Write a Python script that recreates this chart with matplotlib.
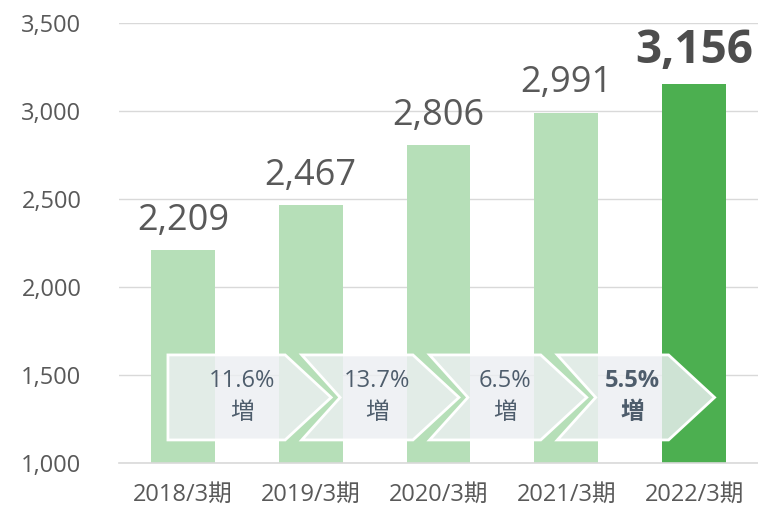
import matplotlib.pyplot as plt
from matplotlib.patches import Polygon
from matplotlib.ticker import FuncFormatter

plt.rcParams['font.family'] = ['Open Sans', 'Noto Sans CJK JP', 'DejaVu Sans']

periods = ['2018/3期', '2019/3期', '2020/3期', '2021/3期', '2022/3期']
values = [2209, 2467, 2806, 2991, 3156]
growth = ['11.6%', '13.7%', '6.5%', '5.5%']

light = '#b6dfb8'
dark = '#4caf50'
text_gray = '#595959'

fig = plt.figure(figsize=(7.58, 5.12), dpi=100)
ax = fig.add_axes([0.157, 0.0957, 0.843, 0.8594])

x = range(len(values))
colors = [light] * (len(values) - 1) + [dark]
ax.bar(x, [v - 1000 for v in values], bottom=1000, width=0.5, color=colors, zorder=2)

ax.set_xlim(-0.5, 4.5)
ax.set_ylim(1000, 3500)
ax.set_yticks(range(1000, 3501, 500))
ax.yaxis.set_major_formatter(FuncFormatter(lambda v, p: f'{int(v):,}'))
ax.set_xticks(list(x))
ax.set_xticklabels(periods)
ax.tick_params(axis='both', length=0, colors=text_gray, labelsize=17)
ax.tick_params(axis='x', pad=14)
ax.tick_params(axis='y', pad=27)
ax.grid(axis='y', color='#d9d9d9', lw=1, zorder=0)
for s in ['left', 'right', 'top']:
    ax.spines[s].set_visible(False)
ax.spines['bottom'].set_color('#d9d9d9')
ax.spines['bottom'].set_linewidth(1.2)

# value labels
for i, v in enumerate(values):
    last = i == len(values) - 1
    ax.annotate(f'{v:,}', (i, v), xytext=(0, 7 if last else 8), textcoords='offset points',
                ha='center', va='bottom', fontsize=33 if last else 26,
                fontweight='bold' if last else 'normal',
                color='#4d4d4d' if last else text_gray)

# growth arrows
y0, y1 = 1131, 1614
ym = (y0 + y1) / 2
for k, g in enumerate(growth):
    body_end = k + 0.80
    tip = k + 1.16
    if k == 0:
        pts = [(k - 0.117, y1), (body_end, y1), (tip, ym), (body_end, y0), (k - 0.117, y0)]
    else:
        left = k - 0.07
        pts = [(left, y1), (body_end, y1), (tip, ym), (body_end, y0), (left, y0),
               (k + 0.23, ym)]
    ax.add_patch(Polygon(pts, closed=True, facecolor='#eceff2', alpha=0.82,
                         edgecolor='none', zorder=3))
    ax.add_patch(Polygon(pts, closed=True, facecolor='none', edgecolor='white',
                         lw=2, zorder=4))
    last = k == len(growth) - 1
    ax.text(k + (0.46 if k == 0 else 0.52), ym + 2, f'{g}\n増', ha='center', va='center',
            fontsize=17, linespacing=1.45, color='#4e5d6c',
            fontweight='bold' if last else 'normal', zorder=5)

fig.savefig('out.png', dpi=100)
